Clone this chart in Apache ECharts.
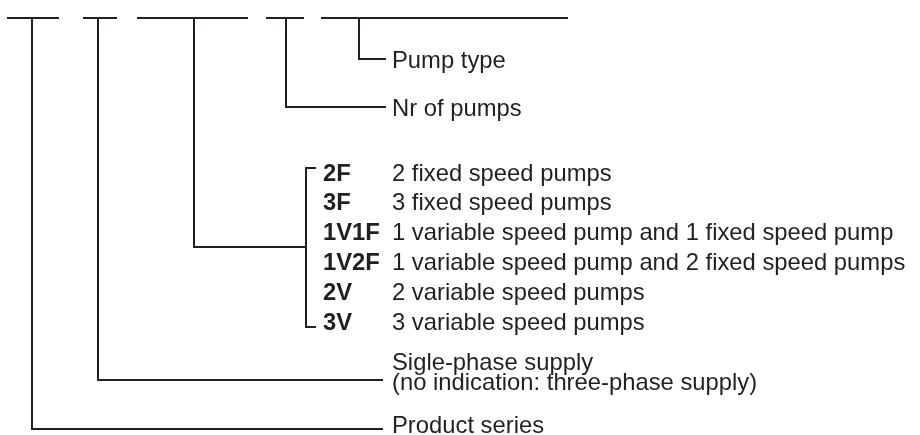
<!DOCTYPE html>
<html>
<head>
<meta charset="utf-8">
<title>Type key</title>
<script src="https://cdn.jsdelivr.net/npm/echarts@6/dist/echarts.min.js"></script>
<style>
  html, body { margin: 0; padding: 0; background: #fff; }
  #main { width: 920px; height: 435px; }
</style>
</head>
<body>
<div id="main"></div>
<script>
// diagram units = axis units (0..920 across, 0..435 down)
var codeLineY = 18;
var fieldStart = [7, 83, 137, 266, 321];
var fieldEnd = [59, 117, 248, 304, 568];
var fieldTap = [32, 98, 194, 286, 359];
var fieldLevel = [429, 380, 247, 107, 59];
var leaderEnd = [383, 383, 306, 386, 386];
var fieldLabels = ['Product series', 'Sigle-phase supply\n(no indication: three-phase supply)', '', 'Nr of pumps', 'Pump type'];
var fieldLabelY = [426, 373, 0, 109, 61];
var labelX = 392;

var pumpCodes = ['2F', '3F', '1V1F', '1V2F', '2V', '3V'];
var pumpTexts = [
  '2 fixed speed pumps',
  '3 fixed speed pumps',
  '1 variable speed pump and 1 fixed speed pump',
  '1 variable speed pump and 2 fixed speed pumps',
  '2 variable speed pumps',
  '3 variable speed pumps'
];
var pumpRowY = [174, 203, 233, 263, 293, 323];
var codeX = 323;
var textX = 392;
var bracketX = 306;
var bracketTick = 316;
var bracketTop = 168;
var bracketBottom = 327;

var ink = '#231f20';
var fontSize = 23.8;

function path(points) {
  return {
    type: 'line',
    data: points,
    symbol: 'none',
    silent: true,
    lineStyle: { color: ink, width: 2, join: 'miter', cap: 'butt', opacity: 1 }
  };
}

var series = [];
// blanks of the type code
for (var i = 0; i < fieldStart.length; i++) {
  series.push(path([[fieldStart[i], codeLineY], [fieldEnd[i], codeLineY]]));
}
// leaders from each blank
for (var i = 0; i < fieldTap.length; i++) {
  series.push(path([[fieldTap[i], codeLineY], [fieldTap[i], fieldLevel[i]], [leaderEnd[i], fieldLevel[i]]]));
}
// bracket round the pump list
series.push(path([[bracketTick, bracketTop], [bracketX, bracketTop], [bracketX, bracketBottom], [bracketTick, bracketBottom]]));

function labels(xs, ys, texts, bold) {
  var data = [];
  for (var i = 0; i < texts.length; i++) {
    if (!texts[i]) continue;
    data.push({ value: [xs[i], ys[i]], name: texts[i] });
  }
  return {
    type: 'scatter',
    data: data,
    symbolSize: 0,
    silent: true,
    itemStyle: { opacity: 1 },
    label: {
      show: true,
      position: 'right',
      distance: 0,
      formatter: '{b}',
      color: ink,
      opacity: 1,
      fontFamily: 'Liberation Sans, Arial, sans-serif',
      fontSize: fontSize,
      fontWeight: bold ? 'bold' : 'normal',
      lineHeight: 20,
      align: 'left',
      verticalAlign: 'middle'
    }
  };
}

series.push(labels(fieldLabels.map(function () { return labelX; }), fieldLabelY, fieldLabels, false));
series.push(labels(pumpCodes.map(function () { return codeX; }), pumpRowY, pumpCodes, true));
series.push(labels(pumpTexts.map(function () { return textX; }), pumpRowY, pumpTexts, false));

var chart = echarts.init(document.getElementById('main'));
chart.setOption({
  animation: false,
  backgroundColor: '#fff',
  grid: { left: 0, right: 0, top: 0, bottom: 0 },
  xAxis: { type: 'value', min: 0, max: 920, show: false },
  yAxis: { type: 'value', min: 0, max: 435, inverse: true, show: false },
  series: series
});
</script>
</body>
</html>
